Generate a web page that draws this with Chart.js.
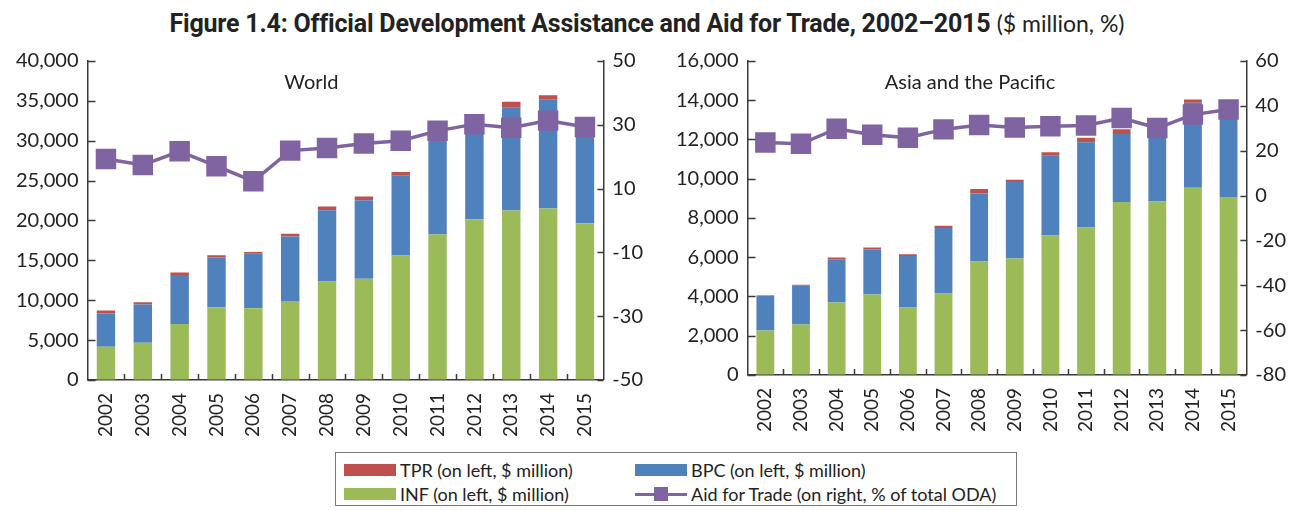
<!DOCTYPE html>
<html>
<head>
<meta charset="utf-8">
<script src="https://cdn.jsdelivr.net/npm/chart.js@4"></script>
<style>
  body { margin: 0; background: #fff; width: 1294px; height: 511px; position: relative; overflow: hidden; font-family: Lato, sans-serif; color: #222; }
  #title { position: absolute; left: 0; width: 1294px; top: 7px; text-align: center; font-size: 25px; white-space: nowrap; }
  #title b { font-family: "Liberation Sans Narrow", "Roboto", sans-serif; font-weight: bold; letter-spacing: -0.2px; }
  #title span { font-family: Lato, sans-serif; font-size: 23px; }
  .panel { position: absolute; top: 40px; }
  #legend { position: absolute; left: 335px; top: 452px; width: 682px; height: 54px; border: 1px solid #777; box-sizing: border-box; font-size: 18px; background: #fff; }
  .item { position: absolute; height: 22px; display: flex; align-items: center; white-space: nowrap; }
  .sw { width: 52px; height: 12px; margin-right: 4px; position: relative; }
  .ln { width: 52px; height: 3px; margin-right: 4px; position: relative; }
  .ln i { position: absolute; left: 19px; top: -6px; width: 14px; height: 14px; }
</style>
</head>
<body>
<div id="title"><b>Figure 1.4: Official Development Assistance and Aid for Trade, 2002–2015</b> <span>($ million, %)</span></div>
<div class="panel" style="left:0"><canvas id="world" width="660" height="411"></canvas></div>
<div class="panel" style="left:660px"><canvas id="asia" width="644" height="411"></canvas></div>
<div id="legend"></div>

<script>
const years = ['2002', '2003', '2004', '2005', '2006', '2007', '2008', '2009', '2010', '2011', '2012', '2013', '2014', '2015'];

// World, $ million (left) and % of total ODA (right)
const worldINF = [4150, 4650, 7000, 9100, 9000, 9900, 12350, 12700, 15600, 18250, 20150, 21250, 21500, 19650];
const worldBPC = [4180, 4810, 6160, 6240, 6840, 8100, 8940, 9840, 10020, 11750, 12510, 12875, 13625, 13100];
const worldTPR = [380, 290, 300, 290, 200, 340, 460, 460, 460, 300, 280, 750, 590, 210];
const worldAfT = [19.3, 17.4, 21.7, 17.0, 12.3, 21.9, 22.7, 24.1, 25.0, 28.1, 30.2, 29.1, 31.3, 29.3];

// Asia and the Pacific
const asiaINF = [2260, 2570, 3690, 4100, 3435, 4150, 5780, 5935, 7110, 7520, 8810, 8845, 9540, 9065];
const asiaBPC = [1770, 1970, 2210, 2295, 2620, 3335, 3470, 3895, 4065, 4345, 3475, 3975, 4330, 4720];
const asiaTPR = [35, 50, 85, 100, 100, 120, 220, 120, 175, 220, 240, 80, 170, 130];
const asiaAfT = [23.7, 23.1, 29.8, 27.1, 25.8, 29.5, 31.5, 30.3, 30.9, 31.2, 34.6, 30.1, 36.1, 38.4];

const seriesNames = ['TPR (on left, $ million)', 'BPC (on left, $ million)', 'INF (on left, $ million)', 'Aid for Trade (on right, % of total ODA)'];
const colTPR = '#C0504D', colBPC = '#4F81BD', colINF = '#9BBB59', colAfT = '#8064A2';
const axisCol = '#3a3a3a';

Chart.defaults.font.family = 'Lato';
Chart.defaults.font.size = 20;
Chart.defaults.color = '#222';

// inward tick marks + panel name
const decor = {
  id: 'decor',
  afterDraw(chart, args, opts) {
    const {ctx, chartArea: a, scales} = chart;
    ctx.save();
    ctx.strokeStyle = axisCol;
    ctx.lineWidth = 1.5;
    ctx.beginPath();
    scales.y.ticks.forEach((t, i) => {
      const y = Math.round(scales.y.getPixelForTick(i)) + 0.5;
      ctx.moveTo(a.left, y); ctx.lineTo(a.left + 8, y);
    });
    scales.y1.ticks.forEach((t, i) => {
      const y = Math.round(scales.y1.getPixelForTick(i)) + 0.5;
      ctx.moveTo(a.right - 6, y); ctx.lineTo(a.right, y);
    });
    for (let i = 1; i < years.length; i++) {
      const x = Math.round((scales.x.getPixelForTick(i - 1) + scales.x.getPixelForTick(i)) / 2) + 0.5;
      ctx.moveTo(x, a.bottom); ctx.lineTo(x, a.bottom - 6);
    }
    ctx.stroke();
    ctx.fillStyle = '#222';
    ctx.font = '20px Lato';
    ctx.textAlign = 'center';
    ctx.textBaseline = 'middle';
    ctx.fillText(opts.text, a.left + a.width * opts.pos, a.top + 22);
    ctx.restore();
  }
};

function makeChart(id, inf, bpc, tpr, aft, yMax, yStep, rMin, rMax, name, pos, pad) {
  return new Chart(document.getElementById(id), {
    data: {
      labels: years,
      datasets: [
        { type: 'line', label: seriesNames[3], data: aft, yAxisID: 'y1', order: 0,
          borderColor: colAfT, backgroundColor: colAfT, borderWidth: 3.5,
          pointStyle: 'rect', pointRadius: 12, pointHoverRadius: 12, tension: 0 },
        { type: 'bar', label: seriesNames[2], data: inf, backgroundColor: colINF, order: 1 },
        { type: 'bar', label: seriesNames[1], data: bpc, backgroundColor: colBPC, order: 1 },
        { type: 'bar', label: seriesNames[0], data: tpr, backgroundColor: colTPR, order: 1 }
      ]
    },
    options: {
      responsive: false,
      animation: false,
      barPercentage: 1,
      categoryPercentage: 0.5,
      layout: { padding: pad },
      plugins: { legend: { display: false }, tooltip: { enabled: false }, decor: { text: name, pos: pos } },
      scales: {
        x: {
          stacked: true,
          grid: { drawOnChartArea: false, drawTicks: false },
          border: { color: axisCol, width: 1.5 },
          ticks: { minRotation: 90, maxRotation: 90, padding: 13, font: { size: 19 } }
        },
        y: {
          stacked: true, position: 'left', min: 0, max: yMax,
          grid: { drawOnChartArea: false, drawTicks: false },
          border: { color: axisCol, width: 1.5 },
          ticks: { stepSize: yStep, padding: 9, callback: v => v.toLocaleString('en-US') }
        },
        y1: {
          position: 'right', min: rMin, max: rMax,
          grid: { drawOnChartArea: false, drawTicks: false },
          border: { color: axisCol, width: 1.5 },
          ticks: { stepSize: 20, padding: 9 }
        }
      }
    },
    plugins: [decor]
  });
}

makeChart('world', worldINF, worldBPC, worldTPR, worldAfT, 40000, 5000, -50, 50, 'World', 0.434,
  { left: 7, right: 8, top: 0, bottom: 1 });
makeChart('asia', asiaINF, asiaBPC, asiaTPR, asiaAfT, 16000, 2000, -80, 60, 'Asia and the Pacific', 0.446,
  { left: 7, right: 9, top: 2, bottom: 6 });

// shared legend
const legend = document.getElementById('legend');
const legendRows = [
  [seriesNames[0], colTPR, 'bar', 0, 0],
  [seriesNames[1], colBPC, 'bar', 1, 0],
  [seriesNames[2], colINF, 'bar', 0, 1],
  [seriesNames[3], colAfT, 'line', 1, 1]
];
legendRows.forEach(([txt, col, kind, c, r]) => {
  const d = document.createElement('div');
  d.className = 'item';
  d.style.left = (c ? 299 : 8) + 'px';
  d.style.top = (r ? 30 : 6) + 'px';
  const mark = kind === 'bar'
    ? '<span class="sw" style="background:' + col + '"></span>'
    : '<span class="ln" style="background:' + col + '"><i style="background:' + col + '"></i></span>';
  d.innerHTML = mark + '<span>' + txt + '</span>';
  legend.appendChild(d);
});
</script>
</body>
</html>
